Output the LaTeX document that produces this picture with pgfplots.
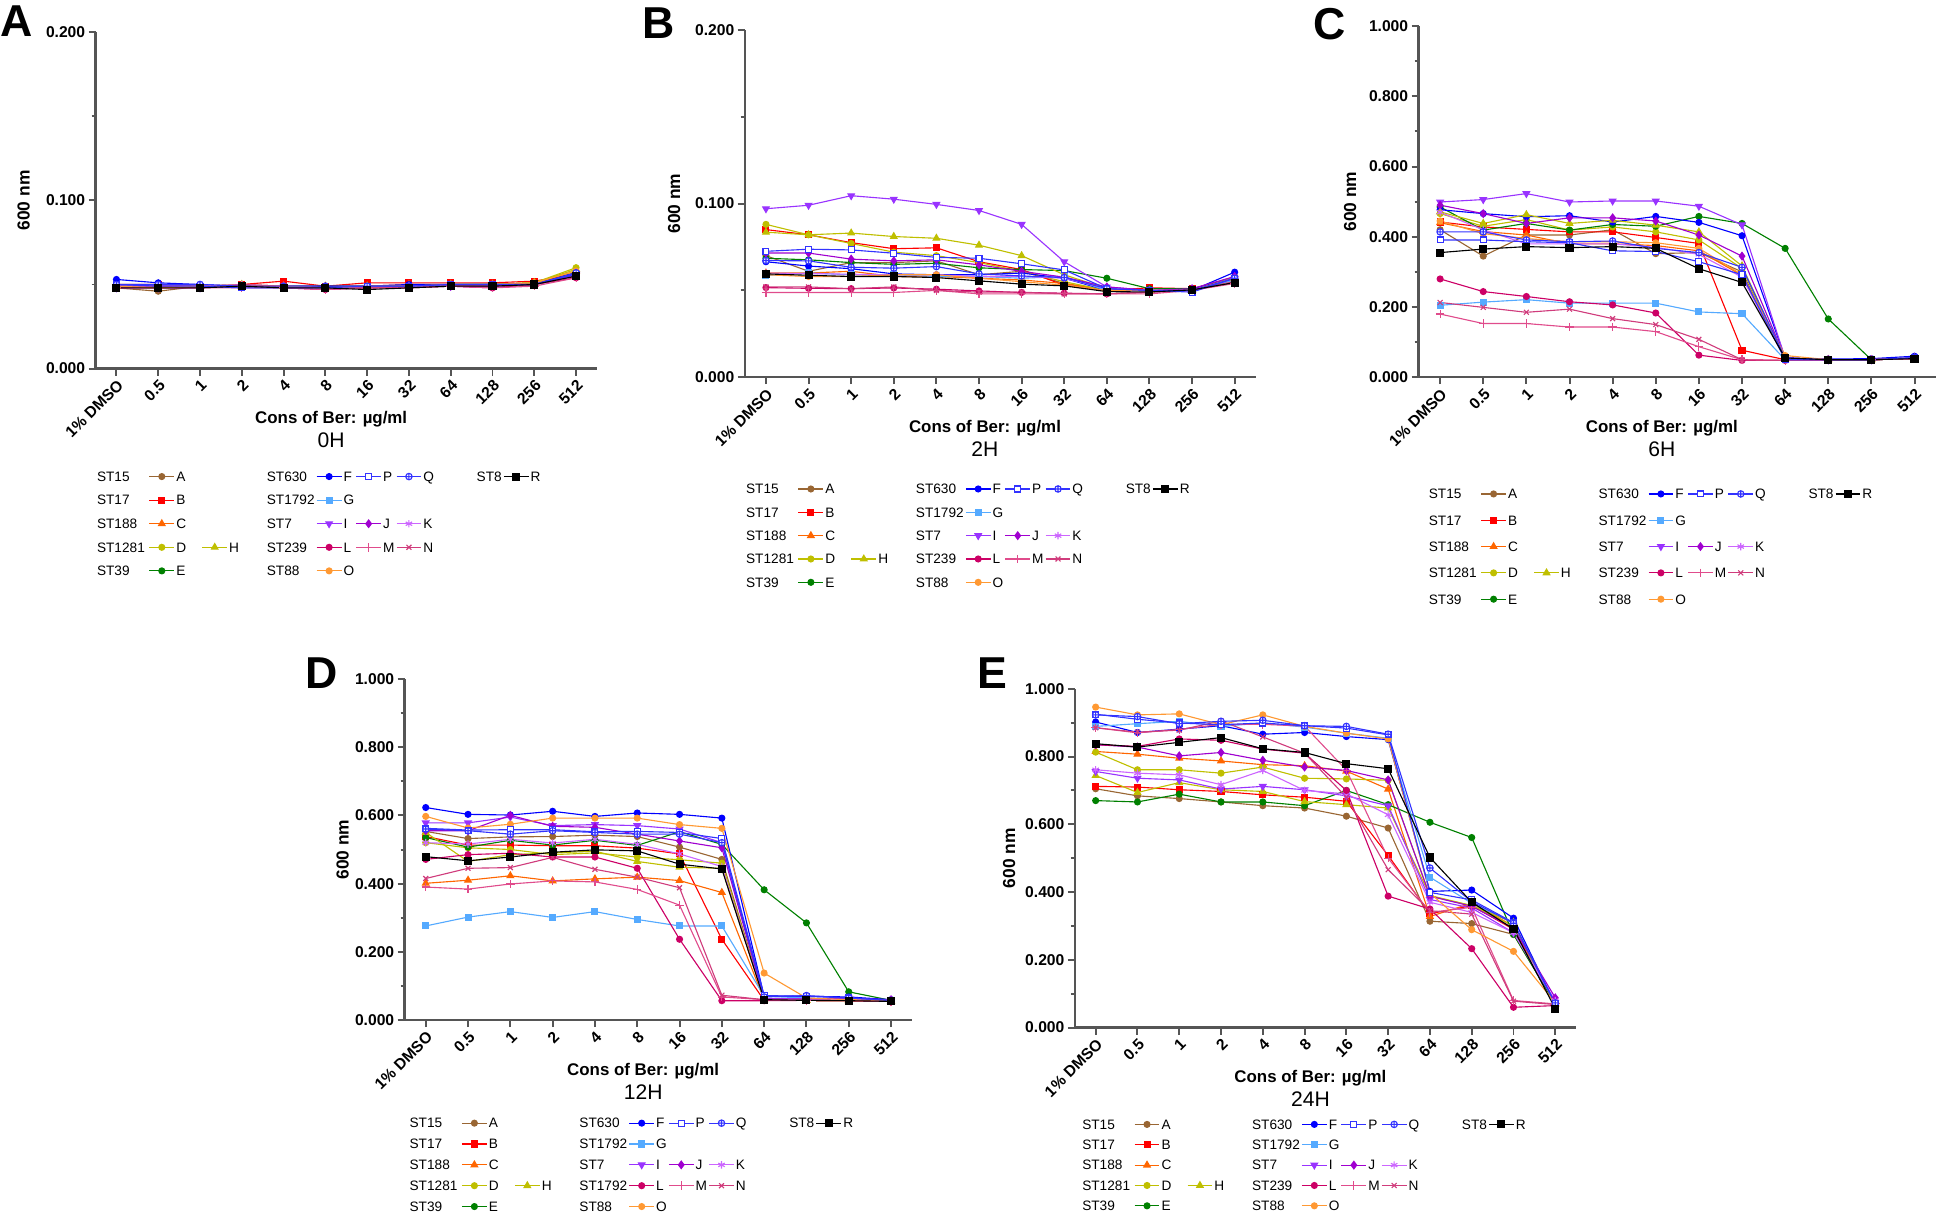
\documentclass[border=0pt]{standalone}
\usepackage{fontspec}
\setmainfont{Liberation Sans}
\usepackage{pgfplots}
\pgfplotsset{compat=1.18}

\definecolor{cA}{HTML}{996633}
\definecolor{cB}{HTML}{FF0000}
\definecolor{cC}{HTML}{FF6600}
\definecolor{cD}{HTML}{BFBF00}
\definecolor{cE}{HTML}{008000}
\definecolor{cF}{HTML}{0000FF}
\definecolor{cG}{HTML}{55AAFF}
\definecolor{cI}{HTML}{9933FF}
\definecolor{cJ}{HTML}{A000D0}
\definecolor{cK}{HTML}{CC66FF}
\definecolor{cL}{HTML}{CC0066}
\definecolor{cM}{HTML}{E04C8C}
\definecolor{cN}{HTML}{D03C7C}
\definecolor{cO}{HTML}{FF9933}
\definecolor{cP}{HTML}{3333FF}
\definecolor{axisgray}{HTML}{555555}

\pgfplotsset{
  lA/.style={color=cA, mark=*, mark size=1.2pt},
  lB/.style={color=cB, mark=square*, mark size=1.2pt},
  lC/.style={color=cC, mark=triangle*, mark size=1.5pt},
  lD/.style={color=cD, mark=*, mark size=1.2pt},
  lE/.style={color=cE, mark=*, mark size=1.2pt},
  lF/.style={color=cF, mark=*, mark size=1.2pt},
  lG/.style={color=cG, mark=square*, mark size=1.2pt},
  lH/.style={color=cD, mark=triangle*, mark size=1.5pt},
  lI/.style={color=cI, mark=triangle*, mark size=1.5pt, mark options={rotate=180}},
  lJ/.style={color=cJ, mark=diamond*, mark size=1.5pt},
  lK/.style={color=cK, mark=asterisk, mark size=1.5pt},
  lL/.style={color=cL, mark=*, mark size=1.2pt},
  lM/.style={color=cM, mark=+, mark size=1.7pt},
  lN/.style={color=cN, mark=x, mark size=1.4pt},
  lO/.style={color=cO, mark=*, mark size=1.2pt},
  lP/.style={color=cP, mark=square*, mark size=1.2pt, mark options={fill=white}},
  lQ/.style={color=cP, mark=oplus*, mark size=1.3pt, mark options={fill=white}},
  lR/.style={color=black, mark=square*, mark size=1.4pt},
  noimg/.style={legend image code/.code={}},
  panel/.style={
    scale only axis, anchor=south west,
    xmin=-0.5, xmax=11.5,
    xtick={0,...,11},
    xticklabels={1\% DMSO,0.5,1,2,4,8,16,32,64,128,256,512},
    axis x line*=bottom, axis y line*=left,
    axis line style={-, color=axisgray, line width=0.9pt},
    tick style={color=axisgray, line width=0.8pt},
    major tick length=2.8pt, minor tick length=1.6pt,
    tick align=outside,
    minor y tick num=1,
    xticklabel style={rotate=45, anchor=north east, inner sep=0.8pt, font=\bfseries\fontsize{6.3}{7}\selectfont},
    yticklabel style={inner sep=1.2pt, font=\bfseries\fontsize{6.3}{7}\selectfont,
      /pgf/number format/fixed, /pgf/number format/fixed zerofill, /pgf/number format/precision=3},
    /pgf/number format/assume math mode=true,
    ylabel={600 nm},
    ylabel style={anchor=center, font=\bfseries\fontsize{7}{8}\selectfont},
    xlabel={Cons of Ber: µg/ml},
    xlabel style={at={(rel axis cs:0.47,0)}, anchor=center, yshift=-20.5pt, font=\bfseries\fontsize{6.8}{8}\selectfont},
    every axis title shift=0pt,
    title style={at={(rel axis cs:0.47,0)}, anchor=center, yshift=-29pt, font=\fontsize{8.5}{10}\selectfont},
    every axis plot/.append style={line width=0.45pt},
    legend columns=9,
    legend cell align=left,
    legend style={draw=none, fill=none, inner sep=0pt, outer sep=0pt, anchor=north west,
      font=\fontsize{5.5}{6}\selectfont,
      nodes={inner xsep=0.6pt, inner ysep=0pt, text height=3.9pt, text depth=0pt},
      column sep=0pt},
    legend image code/.code={
      \path[draw=none,fill=none] (0pt,-2.5pt) rectangle (10pt,2.5pt);
      \draw[mark repeat=2,mark phase=2,##1] plot coordinates {(0pt,0pt) (5pt,0pt) (10pt,0pt)};
    },
  },
}

\newcommand{\ser}[2]{\addplot[#1,forget plot] coordinates {#2};}
\newcommand{\LE}[2]{\addlegendimage{#1}\addlegendentry{#2}}
\newcommand{\mylegend}[1]{%
\LE{noimg}{ST15\hspace*{1pt}}\LE{lA}{A\hspace*{6pt}}\LE{noimg}{\mbox{}}\LE{noimg}{ST630}\LE{lF}{F}\LE{lP}{P}\LE{lQ}{Q\hspace*{16pt}}\LE{noimg}{ST8}\LE{lR}{R}%
\LE{noimg}{ST17}\LE{lB}{B}\LE{noimg}{\mbox{}}\LE{noimg}{ST1792}\LE{lG}{G}\LE{noimg}{\mbox{}}\LE{noimg}{\mbox{}}\LE{noimg}{\mbox{}}\LE{noimg}{\mbox{}}%
\LE{noimg}{ST188}\LE{lC}{C}\LE{noimg}{\mbox{}}\LE{noimg}{ST7}\LE{lI}{I}\LE{lJ}{J}\LE{lK}{K}\LE{noimg}{\mbox{}}\LE{noimg}{\mbox{}}%
\LE{noimg}{ST1281\hspace*{1pt}}\LE{lD}{D}\LE{lH}{H\hspace*{10pt}}\LE{noimg}{#1}\LE{lL}{L}\LE{lM}{M}\LE{lN}{N}\LE{noimg}{\mbox{}}\LE{noimg}{\mbox{}}%
\LE{noimg}{ST39}\LE{lE}{E}\LE{noimg}{\mbox{}}\LE{noimg}{ST88}\LE{lO}{O}%
}

\begin{document}
\begin{tikzpicture}
\path[use as bounding box] (0pt,0pt) rectangle (784pt,489.5pt);

% ---------------- A: 0H ----------------
\begin{axis}[panel, at={(38.5pt,341pt)}, width=202pt, height=135.5pt,
  ymin=0, ymax=0.2, ytick={0,0.1,0.2}, title={0H},
  ylabel style={at={(rel axis cs:-0.1436,0.5)}},
  legend style={at={(0,-0.3026)}, row sep=4.5pt}]
\ser{lA}{(0,.048)(1,.046)(2,.049)(3,.049)(4,.049)(5,.048)(6,.049)(7,.049)(8,.049)(9,.050)(10,.051)(11,.057)}
\ser{lB}{(0,.050)(1,.050)(2,.049)(3,.050)(4,.052)(5,.049)(6,.051)(7,.051)(8,.051)(9,.051)(10,.052)(11,.056)}
\ser{lC}{(0,.049)(1,.049)(2,.049)(3,.049)(4,.049)(5,.049)(6,.049)(7,.050)(8,.050)(9,.050)(10,.051)(11,.058)}
\ser{lD}{(0,.049)(1,.048)(2,.049)(3,.049)(4,.049)(5,.048)(6,.049)(7,.049)(8,.050)(9,.050)(10,.051)(11,.060)}
\ser{lE}{(0,.049)(1,.049)(2,.049)(3,.049)(4,.049)(5,.049)(6,.049)(7,.049)(8,.050)(9,.050)(10,.050)(11,.057)}
\ser{lF}{(0,.053)(1,.051)(2,.050)(3,.049)(4,.049)(5,.049)(6,.049)(7,.050)(8,.050)(9,.050)(10,.050)(11,.057)}
\ser{lG}{(0,.049)(1,.049)(2,.049)(3,.048)(4,.048)(5,.048)(6,.048)(7,.049)(8,.049)(9,.049)(10,.050)(11,.056)}
\ser{lH}{(0,.049)(1,.048)(2,.049)(3,.050)(4,.049)(5,.048)(6,.049)(7,.049)(8,.050)(9,.050)(10,.051)(11,.059)}
\ser{lI}{(0,.048)(1,.048)(2,.048)(3,.049)(4,.049)(5,.048)(6,.048)(7,.049)(8,.049)(9,.049)(10,.050)(11,.056)}
\ser{lJ}{(0,.049)(1,.049)(2,.049)(3,.049)(4,.049)(5,.048)(6,.048)(7,.049)(8,.049)(9,.049)(10,.050)(11,.056)}
\ser{lK}{(0,.049)(1,.049)(2,.049)(3,.050)(4,.049)(5,.048)(6,.048)(7,.049)(8,.049)(9,.048)(10,.050)(11,.055)}
\ser{lL}{(0,.048)(1,.048)(2,.048)(3,.049)(4,.048)(5,.047)(6,.048)(7,.048)(8,.049)(9,.048)(10,.050)(11,.054)}
\ser{lM}{(0,.048)(1,.048)(2,.048)(3,.048)(4,.048)(5,.047)(6,.048)(7,.048)(8,.049)(9,.048)(10,.049)(11,.054)}
\ser{lN}{(0,.049)(1,.049)(2,.048)(3,.050)(4,.049)(5,.048)(6,.048)(7,.049)(8,.049)(9,.049)(10,.050)(11,.055)}
\ser{lO}{(0,.049)(1,.048)(2,.049)(3,.049)(4,.049)(5,.048)(6,.049)(7,.049)(8,.050)(9,.050)(10,.051)(11,.058)}
\ser{lP}{(0,.050)(1,.049)(2,.049)(3,.048)(4,.048)(5,.048)(6,.049)(7,.049)(8,.050)(9,.050)(10,.050)(11,.056)}
\ser{lQ}{(0,.050)(1,.050)(2,.050)(3,.049)(4,.049)(5,.049)(6,.049)(7,.049)(8,.050)(9,.050)(10,.050)(11,.057)}
\ser{lR}{(0,.048)(1,.048)(2,.048)(3,.049)(4,.048)(5,.048)(6,.047)(7,.048)(8,.049)(9,.049)(10,.050)(11,.055)}
\mylegend{ST239}
\end{axis}

% ---------------- B: 2H ----------------
\begin{axis}[panel, at={(300pt,337.5pt)}, width=206pt, height=140pt,
  ymin=0, ymax=0.2, ytick={0,0.1,0.2}, title={2H},
  ylabel style={at={(rel axis cs:-0.138,0.5)}},
  legend style={at={(0,-0.3036)}, row sep=4.4pt}]
\ser{lA}{(0,.070)(1,.061)(2,.066)(3,.066)(4,.067)(5,.059)(6,.061)(7,.054)(8,.050)(9,.050)(10,.050)(11,.056)}
\ser{lB}{(0,.085)(1,.082)(2,.0775)(3,.074)(4,.0745)(5,.0665)(6,.062)(7,.053)(8,.050)(9,.0515)(10,.051)(11,.057)}
\ser{lC}{(0,.060)(1,.060)(2,.061)(3,.058)(4,.058)(5,.057)(6,.056)(7,.054)(8,.050)(9,.050)(10,.050)(11,.057)}
\ser{lD}{(0,.088)(1,.082)(2,.077)(3,.072)(4,.070)(5,.066)(6,.061)(7,.055)(8,.050)(9,.050)(10,.050)(11,.058)}
\ser{lE}{(0,.0685)(1,.0676)(2,.066)(3,.065)(4,.0656)(5,.063)(6,.062)(7,.0614)(8,.057)(9,.051)(10,.051)(11,.057)}
\ser{lF}{(0,.0665)(1,.064)(2,.0625)(3,.0595)(4,.059)(5,.059)(6,.060)(7,.057)(8,.050)(9,.050)(10,.050)(11,.0605)}
\ser{lG}{(0,.0585)(1,.060)(2,.059)(3,.059)(4,.058)(5,.058)(6,.057)(7,.058)(8,.050)(9,.050)(10,.050)(11,.056)}
\ser{lH}{(0,.0835)(1,.082)(2,.083)(3,.081)(4,.080)(5,.076)(6,.070)(7,.059)(8,.051)(9,.050)(10,.050)(11,.057)}
\ser{lI}{(0,.097)(1,.099)(2,.1045)(3,.1025)(4,.0995)(5,.096)(6,.088)(7,.0665)(8,.052)(9,.050)(10,.050)(11,.057)}
\ser{lJ}{(0,.0715)(1,.0715)(2,.068)(3,.067)(4,.0676)(5,.0647)(6,.061)(7,.0576)(8,.052)(9,.050)(10,.051)(11,.058)}
\ser{lK}{(0,.060)(1,.0597)(2,.0593)(3,.059)(4,.059)(5,.058)(6,.058)(7,.057)(8,.051)(9,.050)(10,.050)(11,.057)}
\ser{lL}{(0,.0516)(1,.0512)(2,.051)(3,.0514)(4,.0507)(5,.0497)(6,.0488)(7,.0484)(8,.048)(9,.049)(10,.050)(11,.055)}
\ser{lM}{(0,.0488)(1,.0488)(2,.0488)(3,.0488)(4,.050)(5,.048)(6,.048)(7,.048)(8,.048)(9,.048)(10,.050)(11,.054)}
\ser{lN}{(0,.052)(1,.052)(2,.051)(3,.052)(4,.050)(5,.049)(6,.049)(7,.048)(8,.048)(9,.049)(10,.050)(11,.055)}
\ser{lO}{(0,.059)(1,.058)(2,.058)(3,.059)(4,.059)(5,.057)(6,.055)(7,.053)(8,.050)(9,.050)(10,.050)(11,.057)}
\ser{lP}{(0,.0725)(1,.0737)(2,.0733)(3,.0714)(4,.069)(5,.0685)(6,.0653)(7,.0618)(8,.051)(9,.050)(10,.049)(11,.057)}
\ser{lQ}{(0,.0672)(1,.067)(2,.0633)(3,.0628)(4,.0637)(5,.0595)(6,.0583)(7,.0574)(8,.051)(9,.050)(10,.050)(11,.057)}
\ser{lR}{(0,.0595)(1,.0587)(2,.058)(3,.058)(4,.0574)(5,.0555)(6,.0536)(7,.0526)(8,.0493)(9,.0491)(10,.0503)(11,.0545)}
\mylegend{ST239}
\end{axis}

% ---------------- C: 6H ----------------
\begin{axis}[panel, at={(571.5pt,337.5pt)}, width=208.5pt, height=141.5pt,
  ymin=0, ymax=1, ytick={0,0.2,0.4,0.6,0.8,1}, title={6H},
  ylabel style={at={(rel axis cs:-0.132,0.5)}},
  legend style={at={(0.017,-0.3145)}, row sep=5.6pt}]
\ser{lA}{(0,.420)(1,.345)(2,.405)(3,.405)(4,.420)(5,.352)(6,.355)(7,.300)(8,.052)(9,.050)(10,.050)(11,.054)}
\ser{lB}{(0,.442)(1,.428)(2,.421)(3,.414)(4,.414)(5,.398)(6,.381)(7,.077)(8,.050)(9,.050)(10,.050)(11,.054)}
\ser{lC}{(0,.440)(1,.415)(2,.405)(3,.380)(4,.380)(5,.375)(6,.360)(7,.290)(8,.052)(9,.050)(10,.050)(11,.054)}
\ser{lD}{(0,.466)(1,.430)(2,.449)(3,.419)(4,.428)(5,.414)(6,.391)(7,.310)(8,.052)(9,.050)(10,.050)(11,.055)}
\ser{lE}{(0,.485)(1,.419)(2,.438)(3,.419)(4,.435)(5,.430)(6,.458)(7,.438)(8,.367)(9,.166)(10,.050)(11,.053)}
\ser{lF}{(0,.477)(1,.466)(2,.457)(3,.460)(4,.442)(5,.458)(6,.441)(7,.403)(8,.055)(9,.052)(10,.053)(11,.060)}
\ser{lG}{(0,.205)(1,.214)(2,.221)(3,.211)(4,.211)(5,.211)(6,.186)(7,.181)(8,.050)(9,.049)(10,.050)(11,.054)}
\ser{lH}{(0,.471)(1,.438)(2,.463)(3,.438)(4,.447)(5,.433)(6,.414)(7,.317)(8,.052)(9,.050)(10,.050)(11,.055)}
\ser{lI}{(0,.499)(1,.506)(2,.523)(3,.499)(4,.502)(5,.502)(6,.487)(7,.434)(8,.055)(9,.050)(10,.050)(11,.055)}
\ser{lJ}{(0,.490)(1,.466)(2,.438)(3,.454)(4,.454)(5,.445)(6,.405)(7,.345)(8,.055)(9,.050)(10,.050)(11,.055)}
\ser{lK}{(0,.470)(1,.420)(2,.380)(3,.380)(4,.380)(5,.370)(6,.350)(7,.285)(8,.052)(9,.050)(10,.050)(11,.054)}
\ser{lL}{(0,.280)(1,.244)(2,.230)(3,.215)(4,.206)(5,.183)(6,.063)(7,.048)(8,.048)(9,.049)(10,.050)(11,.053)}
\ser{lM}{(0,.180)(1,.153)(2,.153)(3,.143)(4,.143)(5,.130)(6,.087)(7,.050)(8,.048)(9,.049)(10,.050)(11,.053)}
\ser{lN}{(0,.213)(1,.199)(2,.185)(3,.194)(4,.167)(5,.150)(6,.108)(7,.050)(8,.048)(9,.049)(10,.050)(11,.053)}
\ser{lO}{(0,.445)(1,.409)(2,.395)(3,.386)(4,.386)(5,.383)(6,.367)(7,.292)(8,.062)(9,.050)(10,.050)(11,.054)}
\ser{lP}{(0,.391)(1,.391)(2,.386)(3,.383)(4,.360)(5,.358)(6,.329)(7,.292)(8,.050)(9,.050)(10,.050)(11,.055)}
\ser{lQ}{(0,.414)(1,.414)(2,.391)(3,.386)(4,.388)(5,.367)(6,.355)(7,.313)(8,.055)(9,.050)(10,.050)(11,.056)}
\ser{lR}{(0,.355)(1,.365)(2,.372)(3,.369)(4,.372)(5,.367)(6,.309)(7,.270)(8,.055)(9,.050)(10,.050)(11,.053)}
\mylegend{ST239}
\end{axis}

% ---------------- D: 12H ----------------
\begin{axis}[panel, at={(163pt,78.5pt)}, width=204.5pt, height=137.5pt,
  ymin=0, ymax=1, ytick={0,0.2,0.4,0.6,0.8,1}, title={12H},
  ylabel style={at={(rel axis cs:-0.122,0.5)}},
  legend style={at={(0.007,-0.2836)}, row sep=3.4pt}]
\ser{lA}{(0,.553)(1,.532)(2,.537)(3,.538)(4,.542)(5,.538)(6,.507)(7,.471)(8,.062)(9,.060)(10,.058)(11,.056)}
\ser{lB}{(0,.538)(1,.513)(2,.513)(3,.511)(4,.511)(5,.504)(6,.487)(7,.237)(8,.058)(9,.058)(10,.057)(11,.055)}
\ser{lC}{(0,.401)(1,.410)(2,.423)(3,.408)(4,.414)(5,.419)(6,.409)(7,.374)(8,.060)(9,.058)(10,.057)(11,.055)}
\ser{lD}{(0,.520)(1,.505)(2,.500)(3,.485)(4,.490)(5,.478)(6,.470)(7,.460)(8,.060)(9,.058)(10,.057)(11,.055)}
\ser{lE}{(0,.535)(1,.507)(2,.527)(3,.513)(4,.527)(5,.512)(6,.552)(7,.515)(8,.382)(9,.285)(10,.083)(11,.058)}
\ser{lF}{(0,.623)(1,.603)(2,.601)(3,.612)(4,.597)(5,.607)(6,.603)(7,.592)(8,.070)(9,.070)(10,.068)(11,.060)}
\ser{lG}{(0,.276)(1,.302)(2,.318)(3,.301)(4,.318)(5,.295)(6,.276)(7,.276)(8,.070)(9,.065)(10,.060)(11,.058)}
\ser{lH}{(0,.550)(1,.465)(2,.485)(3,.490)(4,.495)(5,.465)(6,.448)(7,.445)(8,.060)(9,.058)(10,.057)(11,.055)}
\ser{lI}{(0,.578)(1,.578)(2,.595)(3,.570)(4,.573)(5,.570)(6,.560)(7,.520)(8,.062)(9,.062)(10,.065)(11,.058)}
\ser{lJ}{(0,.555)(1,.555)(2,.600)(3,.568)(4,.565)(5,.545)(6,.525)(7,.505)(8,.062)(9,.062)(10,.062)(11,.060)}
\ser{lK}{(0,.520)(1,.516)(2,.530)(3,.519)(4,.530)(5,.515)(6,.487)(7,.450)(8,.060)(9,.060)(10,.060)(11,.057)}
\ser{lL}{(0,.471)(1,.485)(2,.489)(3,.478)(4,.478)(5,.445)(6,.237)(7,.057)(8,.057)(9,.058)(10,.057)(11,.055)}
\ser{lM}{(0,.390)(1,.384)(2,.399)(3,.408)(4,.405)(5,.383)(6,.337)(7,.068)(8,.060)(9,.058)(10,.057)(11,.055)}
\ser{lN}{(0,.415)(1,.445)(2,.447)(3,.477)(4,.442)(5,.419)(6,.388)(7,.073)(8,.060)(9,.058)(10,.057)(11,.055)}
\ser{lO}{(0,.597)(1,.563)(2,.574)(3,.592)(4,.592)(5,.592)(6,.573)(7,.562)(8,.138)(9,.065)(10,.060)(11,.058)}
\ser{lP}{(0,.562)(1,.557)(2,.558)(3,.558)(4,.552)(5,.553)(6,.550)(7,.532)(8,.072)(9,.070)(10,.065)(11,.058)}
\ser{lQ}{(0,.560)(1,.555)(2,.545)(3,.555)(4,.550)(5,.545)(6,.545)(7,.520)(8,.068)(9,.072)(10,.065)(11,.058)}
\ser{lR}{(0,.479)(1,.467)(2,.478)(3,.492)(4,.499)(5,.496)(6,.457)(7,.443)(8,.060)(9,.058)(10,.057)(11,.055)}
\mylegend{ST1792}
\end{axis}

% ---------------- E: 24H ----------------
\begin{axis}[panel, at={(433pt,75.5pt)}, width=202pt, height=136.5pt,
  ymin=0, ymax=1, ytick={0,0.2,0.4,0.6,0.8,1}, title={24H},
  ylabel style={at={(rel axis cs:-0.131,0.5)}},
  legend style={at={(0.012,-0.2674)}, row sep=3.2pt}]
\ser{lA}{(0,.705)(1,.684)(2,.676)(3,.666)(4,.655)(5,.648)(6,.624)(7,.589)(8,.314)(9,.307)(10,.275)(11,.070)}
\ser{lB}{(0,.712)(1,.710)(2,.702)(3,.697)(4,.687)(5,.680)(6,.668)(7,.508)(8,.336)(9,.360)(10,.290)(11,.070)}
\ser{lC}{(0,.815)(1,.807)(2,.795)(3,.787)(4,.776)(5,.773)(6,.757)(7,.704)(8,.328)(9,.367)(10,.300)(11,.070)}
\ser{lD}{(0,.813)(1,.761)(2,.761)(3,.751)(4,.769)(5,.736)(6,.734)(7,.730)(8,.388)(9,.360)(10,.300)(11,.070)}
\ser{lE}{(0,.670)(1,.666)(2,.689)(3,.666)(4,.666)(5,.655)(6,.700)(7,.658)(8,.606)(9,.561)(10,.275)(11,.070)}
\ser{lF}{(0,.902)(1,.871)(2,.881)(3,.891)(4,.866)(5,.871)(6,.859)(7,.850)(8,.402)(9,.406)(10,.323)(11,.068)}
\ser{lG}{(0,.889)(1,.897)(2,.904)(3,.889)(4,.899)(5,.887)(6,.869)(7,.854)(8,.444)(9,.367)(10,.308)(11,.070)}
\ser{lH}{(0,.744)(1,.694)(2,.723)(3,.702)(4,.697)(5,.667)(6,.658)(7,.648)(8,.390)(9,.360)(10,.310)(11,.070)}
\ser{lI}{(0,.756)(1,.736)(2,.731)(3,.704)(4,.712)(5,.702)(6,.684)(7,.655)(8,.378)(9,.353)(10,.280)(11,.075)}
\ser{lJ}{(0,.835)(1,.828)(2,.802)(3,.812)(4,.789)(5,.769)(6,.759)(7,.731)(8,.388)(9,.358)(10,.294)(11,.088)}
\ser{lK}{(0,.761)(1,.751)(2,.746)(3,.717)(4,.759)(5,.700)(6,.690)(7,.628)(8,.370)(9,.340)(10,.280)(11,.080)}
\ser{lL}{(0,.835)(1,.830)(2,.852)(3,.848)(4,.822)(5,.810)(6,.700)(7,.388)(8,.350)(9,.233)(10,.060)(11,.065)}
\ser{lM}{(0,.885)(1,.870)(2,.880)(3,.895)(4,.895)(5,.890)(6,.760)(7,.500)(8,.340)(9,.355)(10,.080)(11,.070)}
\ser{lN}{(0,.885)(1,.872)(2,.878)(3,.905)(4,.858)(5,.810)(6,.680)(7,.466)(8,.345)(9,.335)(10,.078)(11,.068)}
\ser{lO}{(0,.946)(1,.923)(2,.926)(3,.894)(4,.923)(5,.889)(6,.869)(7,.852)(8,.397)(9,.289)(10,.225)(11,.073)}
\ser{lP}{(0,.925)(1,.910)(2,.899)(3,.894)(4,.899)(5,.891)(6,.884)(7,.864)(8,.399)(9,.377)(10,.310)(11,.070)}
\ser{lQ}{(0,.923)(1,.918)(2,.897)(3,.904)(4,.907)(5,.891)(6,.889)(7,.866)(8,.471)(9,.372)(10,.308)(11,.073)}
\ser{lR}{(0,.838)(1,.828)(2,.842)(3,.856)(4,.823)(5,.812)(6,.779)(7,.764)(8,.502)(9,.370)(10,.291)(11,.056)}
\mylegend{ST239}
\end{axis}

% panel letters
\node[anchor=north west, inner sep=0pt, font=\bfseries\fontsize{18}{18}\selectfont] at (0pt,487.5pt) {A};
\node[anchor=north west, inner sep=0pt, font=\bfseries\fontsize{18}{18}\selectfont] at (258.5pt,486.75pt) {B};
\node[anchor=north west, inner sep=0pt, font=\bfseries\fontsize{18}{18}\selectfont] at (529pt,486.5pt) {C};
\node[anchor=north west, inner sep=0pt, font=\bfseries\fontsize{18}{18}\selectfont] at (123pt,224.5pt) {D};
\node[anchor=north west, inner sep=0pt, font=\bfseries\fontsize{18}{18}\selectfont] at (393.5pt,224.5pt) {E};
\end{tikzpicture}
\end{document}
